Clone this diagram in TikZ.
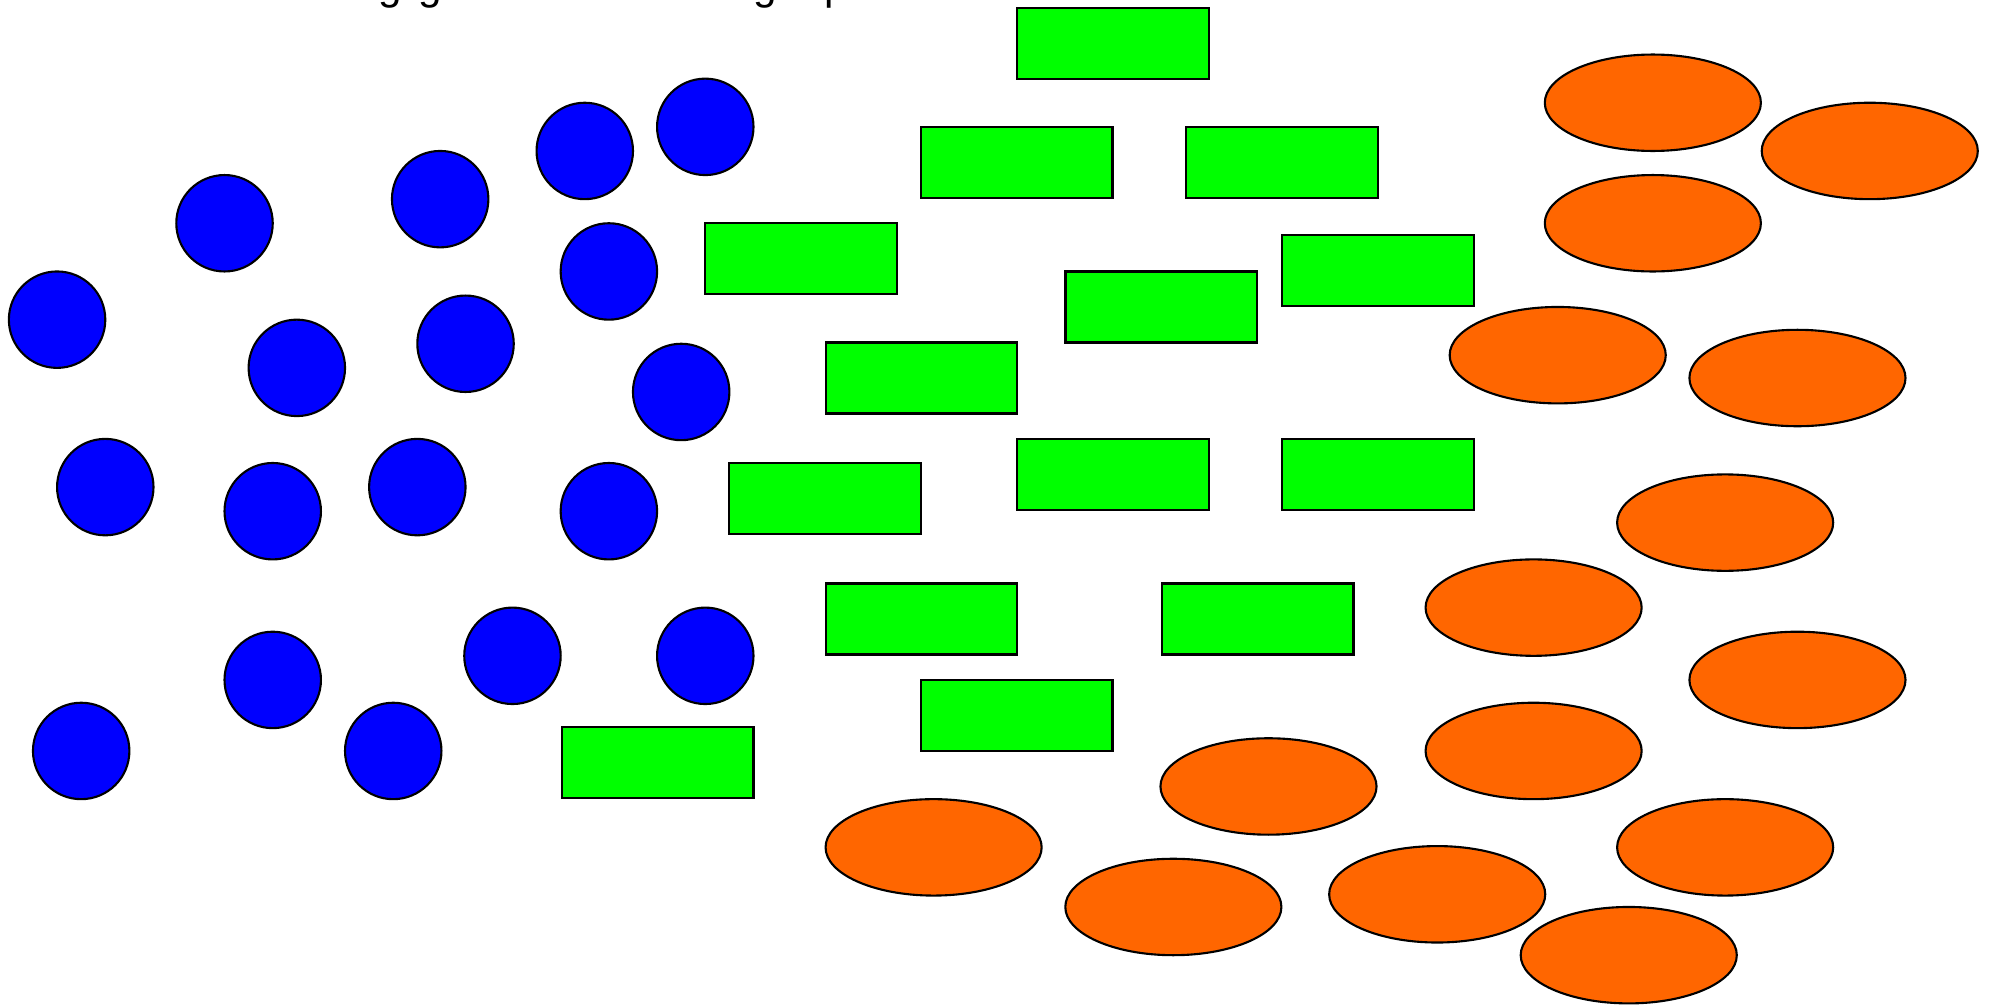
\documentclass[tikz,border=0pt]{standalone}
\usepackage{fontspec}
\setmainfont{Liberation Sans}
\usetikzlibrary{shapes.geometric}
\definecolor{bluefill}{RGB}{0,0,255}
\definecolor{greenfill}{RGB}{0,255,0}
\definecolor{orangefill}{RGB}{255,102,0}
\tikzset{
  bluedot/.style={circle, draw=black, line width=0.6pt, fill=bluefill, minimum size=0.964cm, inner sep=0pt},
  greenbox/.style={rectangle, draw=black, line width=0.6pt, fill=greenfill, minimum width=1.915cm, minimum height=0.71cm, inner sep=0pt},
  orangeoval/.style={ellipse, draw=black, line width=0.6pt, fill=orangefill, minimum width=2.16cm, minimum height=0.964cm, inner sep=0pt},
  cuttext/.style={anchor=base, inner sep=0pt, font=\fontsize{12pt}{14pt}\selectfont}
}
\begin{document}
\begin{tikzpicture}[x=0.012685cm, y=-0.012685cm]
\useasboundingbox (0,0) rectangle (1568,792);
\begin{scope}
\clip (0,0) rectangle (1568,792);
\node[cuttext] (t1) at (308,-0.3) {g};
\node[cuttext] (t2) at (339,-0.3) {g};
\node[cuttext] (t3) at (603,-0.3) {g};
\node[cuttext] (t4) at (659,-0.3) {p};
\end{scope}
% blue circles
\node[bluedot] (b1) at (556,100) {};
\node[bluedot] (b2) at (461,119) {};
\node[bluedot] (b3) at (177,176) {};
\node[bluedot] (b4) at (347,157) {};
\node[bluedot] (b5) at (480,214) {};
\node[bluedot] (b6) at (45,252) {};
\node[bluedot] (b7) at (234,290) {};
\node[bluedot] (b8) at (367,271) {};
\node[bluedot] (b9) at (537,309) {};
\node[bluedot] (b10) at (83,384) {};
\node[bluedot] (b11) at (215,403) {};
\node[bluedot] (b12) at (329,384) {};
\node[bluedot] (b13) at (480,403) {};
\node[bluedot] (b14) at (404,517) {};
\node[bluedot] (b15) at (556,517) {};
\node[bluedot] (b16) at (215,536) {};
\node[bluedot] (b17) at (64,592) {};
\node[bluedot] (b18) at (310,592) {};
% green rectangles
\node[greenbox] (g1) at (877.5,34) {};
\node[greenbox] (g2) at (801.5,128) {};
\node[greenbox] (g3) at (1010.5,128) {};
\node[greenbox] (g4) at (631.5,204) {};
\node[greenbox] (g5) at (1086.5,213) {};
\node[greenbox] (g6) at (915.5,242) {};
\node[greenbox] (g7) at (726.5,298) {};
\node[greenbox] (g8) at (877.5,374) {};
\node[greenbox] (g9) at (1086.5,374) {};
\node[greenbox] (g10) at (650.5,393) {};
\node[greenbox] (g11) at (726.5,488) {};
\node[greenbox] (g12) at (991.5,488) {};
\node[greenbox] (g13) at (801.5,564) {};
\node[greenbox] (g14) at (518.5,601) {};
% orange ellipses
\node[orangeoval] (o1) at (1303,81) {};
\node[orangeoval] (o2) at (1474,119) {};
\node[orangeoval] (o3) at (1303,176) {};
\node[orangeoval] (o4) at (1228,280) {};
\node[orangeoval] (o5) at (1417,298) {};
\node[orangeoval] (o6) at (1360,412) {};
\node[orangeoval] (o7) at (1209,479) {};
\node[orangeoval] (o8) at (1417,536) {};
\node[orangeoval] (o9) at (1209,592) {};
\node[orangeoval] (o10) at (1000,620) {};
\node[orangeoval] (o11) at (736,668) {};
\node[orangeoval] (o12) at (1360,668) {};
\node[orangeoval] (o13) at (925,715) {};
\node[orangeoval] (o14) at (1133,705) {};
\node[orangeoval] (o15) at (1284,753) {};
\end{tikzpicture}
\end{document}
